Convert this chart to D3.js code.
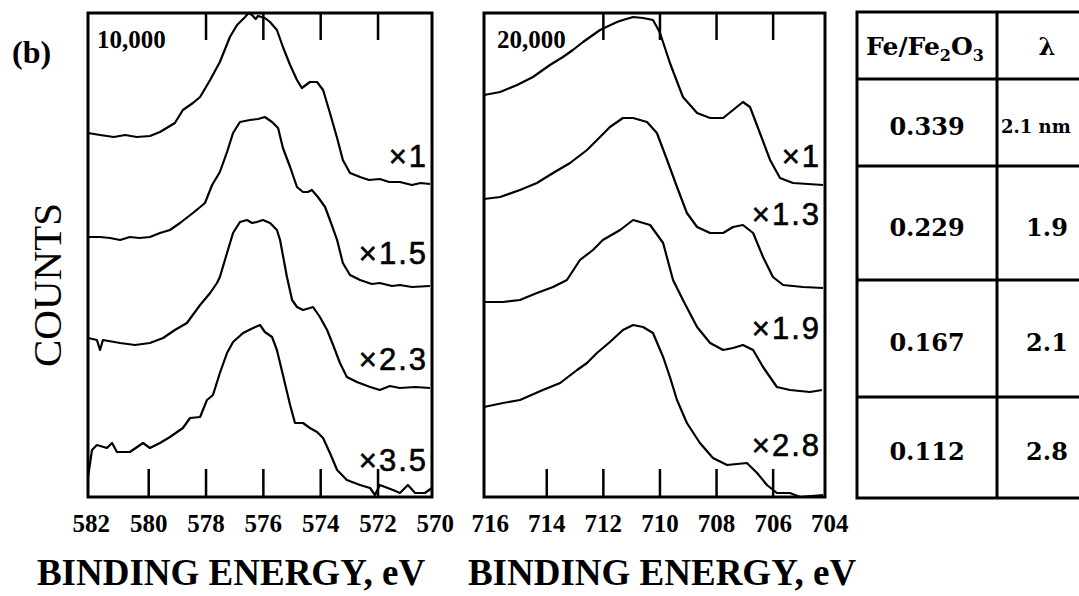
<!DOCTYPE html>
<html>
<head>
<meta charset="utf-8">
<script src="https://cdn.jsdelivr.net/npm/d3@7/dist/d3.min.js"></script>
<style>
body { margin: 0; background: #fff; }
text { fill: #000; }
</style>
</head>
<body>
<svg id="chart" width="1079" height="596"></svg>
<script>
// Cr 2p spectra (binding energy eV, counts in arbitrary units), top to bottom
var cr1 = [[582.1,364],[581.68,362],[581.2,360],[580.8,362],[580.4,360],[579.94,361],[579.59,365],[579.07,374],[578.79,387],[578.44,394],[578.19,400],[577.84,417],[577.5,435],[577.15,460],[576.9,472],[576.62,480],[576.5,484],[576.38,482],[576.25,478],[576.17,481],[575.93,479],[575.75,475],[575.51,467],[575.3,450],[575.05,432],[574.81,417],[574.64,409],[574.36,415],[574.11,415],[573.9,407],[573.66,384],[573.41,359],[573.21,337],[572.96,324],[572.61,320],[572.3,317],[571.92,318],[571.6,315],[571.22,315],[570.8,312],[570.5,314],[570.17,313]];
var cr2 = [[582.1,260],[581.68,260],[581.33,259],[580.98,257],[580.64,260],[580.3,259],[579.94,260],[579.59,264],[579.24,267],[578.89,274],[578.44,284],[578.02,294],[577.77,312],[577.5,325],[577.25,345],[577.04,364],[576.8,375],[576.45,377],[576.17,378],[575.93,380],[575.68,375],[575.47,369],[575.3,349],[575.05,330],[574.81,310],[574.6,305],[574.43,305],[574.29,307],[574.08,300],[573.83,290],[573.66,277],[573.41,257],[573.21,234],[572.96,222],[572.61,217],[572.2,213],[571.92,214],[571.5,211],[571.22,212],[570.8,210],[570.17,211]];
var cr3 = [[582.1,159],[581.79,157],[581.68,147],[581.58,157],[580.98,154],[580.46,152],[579.94,154],[579.48,159],[579.07,167],[578.65,174],[578.19,192],[577.84,204],[577.6,214],[577.5,220],[577.25,244],[577.04,264],[576.8,275],[576.55,277],[576.38,274],[576.21,275],[576.0,277],[575.75,274],[575.51,267],[575.4,257],[575.16,220],[574.98,197],[574.81,190],[574.6,187],[574.36,189],[574.25,190],[574.01,180],[573.76,167],[573.55,152],[573.31,134],[573.07,120],[572.72,115],[572.26,110],[571.92,107],[571.57,111],[571.22,109],[570.69,110],[570.17,109]];
var cr4 = [[582.1,20],[581.96,47],[581.79,52],[581.44,49],[581.26,54],[581.09,45],[580.64,45],[580.18,54],[579.94,49],[579.59,54],[579.24,60],[578.79,69],[578.54,79],[578.19,80],[577.95,97],[577.74,102],[577.5,124],[577.25,144],[577.04,155],[576.69,164],[576.34,169],[576.1,172],[575.93,165],[575.68,160],[575.51,147],[575.3,122],[575.05,92],[574.88,74],[574.6,74],[574.36,69],[574.11,65],[573.9,59],[573.66,44],[573.41,27],[573.07,17],[572.61,12],[572.26,9],[572.09,2],[571.92,12],[571.46,7],[571.22,4],[570.94,12],[570.69,4],[570.35,4],[570.1,9]];

// Fe 2p spectra
var fe1 = [[716.2,402],[715.63,405],[715.03,412],[714.47,420],[713.87,432],[713.41,440],[713.06,447],[712.7,455],[712.1,467],[711.5,475],[711.29,477],[710.93,480],[710.58,479],[710.23,477],[710.09,470],[709.98,464],[709.63,434],[709.17,400],[708.67,384],[708.21,379],[707.75,379],[707.4,387],[707.05,395],[706.8,390],[706.45,364],[706.09,337],[705.74,319],[705.28,314],[704.22,312]];
var fe2 = [[716.2,298],[715.63,300],[714.93,307],[714.33,314],[713.76,324],[713.16,334],[712.56,347],[712.1,360],[711.75,370],[711.29,379],[710.93,379],[710.44,375],[710.09,364],[709.73,337],[709.38,310],[709.03,284],[708.67,270],[708.21,264],[707.75,264],[707.4,270],[707.05,272],[706.69,264],[706.34,240],[705.99,220],[705.63,212],[704.93,210],[704.22,209]];
var fe3 = [[716.2,195],[715.53,195],[714.93,197],[714.33,204],[713.76,210],[713.27,217],[712.81,237],[712.35,247],[712.0,257],[711.39,267],[710.93,277],[710.33,272],[709.87,254],[709.52,217],[709.17,197],[708.67,170],[708.21,154],[707.75,147],[707.4,149],[707.05,152],[706.69,147],[706.34,130],[705.85,110],[705.39,107],[704.68,105],[704.26,107]];
var fe4 = [[716.2,90],[715.53,94],[714.93,97],[714.12,107],[713.51,114],[712.91,127],[712.56,134],[712.21,144],[711.75,155],[711.29,167],[710.93,172],[710.58,170],[710.23,164],[709.87,140],[709.63,120],[709.38,97],[709.03,74],[708.57,54],[708.11,39],[707.61,32],[706.91,34],[706.55,24],[706.2,12],[705.85,4],[705.39,4],[705.03,0],[704.22,2]];

var crLabels = [582,580,578,576,574,572,570];
var feLabels = [716,714,712,710,708,706,704];
var crFactors = ["\u00d71","\u00d71.5","\u00d72.3","\u00d73.5"];
var feFactors = ["\u00d71","\u00d71.3","\u00d71.9","\u00d72.8"];
var ratios = ["0.339","0.229","0.167","0.112"];
var lambdas = ["2.1 nm","1.9","2.1","2.8"];

var svg = d3.select("#chart");

var panels = [
  { left: 88, right: 432, domain: [582.1, 570.1], curves: [cr1, cr2, cr3, cr4], labels: crLabels,
    inner: [580,578,576,574,572], topTicks: [578,576,574,572], factors: crFactors, factorY: [167,264,370,471],
    full: "10,000", fullX: 97, titleX: 231 },
  { left: 484, right: 825, domain: [716.2, 704.15], curves: [fe1, fe2, fe3, fe4], labels: feLabels,
    inner: [714,712,710,708,706], topTicks: [712,710,708,706], factors: feFactors, factorY: [167,225,339,456],
    full: "20,000", fullX: 497, titleX: 662 }
];

var plotTop = 13, plotBottom = 497;
var y = d3.scaleLinear().domain([0, 484]).range([plotBottom, plotTop]);

panels.forEach(function(p){
  var x = d3.scaleLinear().domain(p.domain).range([p.left, p.right]);

  // curves
  var line = d3.line().x(d => x(d[0])).y(d => y(d[1]));
  p.curves.forEach(function(c){
    svg.append("path")
      .attr("d", line(c))
      .attr("fill", "none")
      .attr("stroke", "#000")
      .attr("stroke-width", 2.2)
      .attr("stroke-linejoin", "round");
  });

  // inner ticks bottom
  var gb = svg.append("g")
    .attr("transform", "translate(0," + plotBottom + ")")
    .call(d3.axisBottom(x).tickValues(p.inner).tickSizeInner(-28).tickSizeOuter(0).tickFormat(""));
  gb.select(".domain").remove();
  gb.selectAll("line").attr("stroke-width", 2.5);

  // inner ticks top
  var gt = svg.append("g")
    .attr("transform", "translate(0," + plotTop + ")")
    .call(d3.axisTop(x).tickValues(p.topTicks).tickSizeInner(-27).tickSizeOuter(0).tickFormat(""));
  gt.select(".domain").remove();
  gt.selectAll("line").attr("stroke-width", 2.5);

  // tick labels
  var gl = svg.append("g")
    .attr("transform", "translate(0," + plotBottom + ")")
    .call(d3.axisBottom(x).tickValues(p.labels).tickSize(0).tickPadding(17).tickFormat(d3.format("d")));
  gl.select(".domain").remove();
  gl.attr("font-family", "'Liberation Serif', serif").attr("font-size", 25).attr("font-weight", "bold");

  // frame
  svg.append("rect")
    .attr("x", p.left).attr("y", plotTop)
    .attr("width", p.right - p.left).attr("height", plotBottom - plotTop)
    .attr("fill", "none").attr("stroke", "#000").attr("stroke-width", 3);

  // full scale label
  svg.append("text")
    .attr("x", p.fullX).attr("y", 48)
    .attr("font-family", "'Liberation Serif', serif").attr("font-size", 25).attr("font-weight", "bold")
    .text(p.full);

  // scale factors
  p.factors.forEach(function(f, i){
    svg.append("text")
      .attr("x", p.right - 4).attr("y", p.factorY[i])
      .attr("text-anchor", "end")
      .attr("font-family", "'Liberation Sans', sans-serif").attr("font-size", 31)
      .attr("letter-spacing", 2)
      .attr("stroke", "#000").attr("stroke-width", 0.6)
      .text(f);
  });

  // axis title
  svg.append("text")
    .attr("x", p.titleX).attr("y", 585)
    .attr("text-anchor", "middle")
    .attr("font-family", "'Liberation Serif', serif").attr("font-size", 37).attr("font-weight", "bold")
    .text("BINDING ENERGY, eV");
});

svg.append("text")
  .attr("x", 12).attr("y", 63)
  .attr("font-family", "'Liberation Serif', serif").attr("font-size", 32).attr("font-weight", "bold")
  .text("(b)");

svg.append("text")
  .attr("transform", "translate(61,285) rotate(-90)")
  .attr("text-anchor", "middle")
  .attr("font-family", "'Liberation Serif', serif").attr("font-size", 41)
  .text("COUNTS");

// table
var rowY = [12, 79, 166, 280, 397, 498];
var colX = [857, 997, 1100];
var tbl = svg.append("g");
tbl.append("rect")
  .attr("x", colX[0]).attr("y", rowY[0])
  .attr("width", colX[2] - colX[0]).attr("height", rowY[5] - rowY[0])
  .attr("fill", "none").attr("stroke", "#000").attr("stroke-width", 3);
rowY.slice(1, 5).forEach(function(r){
  tbl.append("line").attr("x1", colX[0]).attr("x2", colX[2]).attr("y1", r).attr("y2", r)
    .attr("stroke", "#000").attr("stroke-width", 3);
});
tbl.append("line").attr("x1", colX[1]).attr("x2", colX[1]).attr("y1", rowY[0]).attr("y2", rowY[5])
  .attr("stroke", "#000").attr("stroke-width", 3);

var cellFont = "'DejaVu Serif', serif";
var head = tbl.append("text")
  .attr("x", (colX[0] + colX[1]) / 2 - 2).attr("y", 55)
  .attr("text-anchor", "middle")
  .attr("font-family", cellFont).attr("font-size", 25).attr("font-weight", "bold");
head.append("tspan").text("Fe/Fe");
head.append("tspan").attr("font-size", 16).attr("dy", 6).text("2");
head.append("tspan").attr("dy", -6).text("O");
head.append("tspan").attr("font-size", 16).attr("dy", 6).text("3");
tbl.append("text")
  .attr("x", 1047).attr("y", 55)
  .attr("text-anchor", "middle")
  .attr("font-family", cellFont).attr("font-size", 24).attr("font-weight", "bold")
  .text("\u03bb");

ratios.forEach(function(r, i){
  var cy = (rowY[i + 1] + rowY[i + 2]) / 2 + 4;
  tbl.append("text")
    .attr("x", (colX[0] + colX[1]) / 2).attr("y", cy)
    .attr("dy", "0.36em")
    .attr("text-anchor", "middle")
    .attr("font-family", cellFont).attr("font-size", 24).attr("font-weight", "bold")
    .text(r);
  var t = tbl.append("text")
    .attr("y", cy)
    .attr("dy", "0.36em")
    .attr("font-family", cellFont).attr("font-weight", "bold")
    .text(lambdas[i]);
  if (lambdas[i].length > 3) {
    // wide entry sits against the divider, smaller so it stays on the page
    t.attr("x", colX[1] + 4).attr("font-size", 18);
  } else {
    t.attr("x", 1047).attr("text-anchor", "middle").attr("font-size", 24);
  }
});
</script>
</body>
</html>
